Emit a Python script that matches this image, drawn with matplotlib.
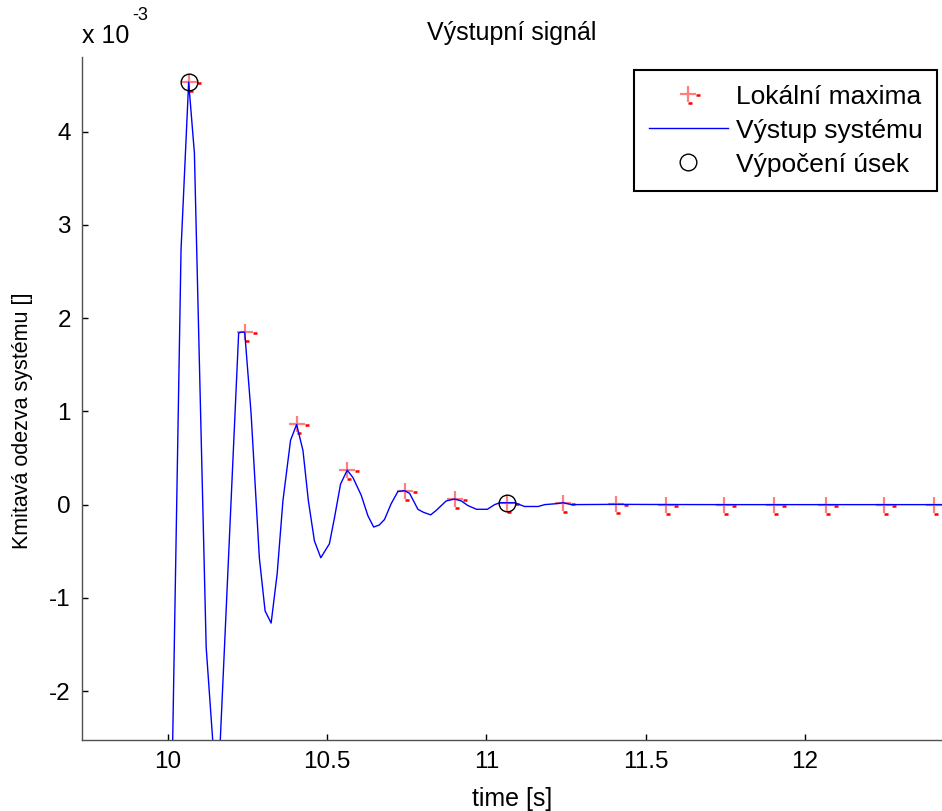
import numpy as np
import matplotlib
matplotlib.use("Agg")
import matplotlib.pyplot as plt
from matplotlib.path import Path
from matplotlib.legend_handler import HandlerTuple

plt.rcParams['font.family'] = ['Liberation Sans', 'DejaVu Sans']

# ---- data (values in units of 1e-3) ----
t_line = [10.000, 10.041, 10.065, 10.083, 10.120, 10.155, 10.222, 10.230, 10.241,
          10.261, 10.287, 10.305, 10.324, 10.343, 10.361, 10.385, 10.404, 10.424,
          10.441, 10.460, 10.480, 10.507, 10.523, 10.542, 10.563, 10.581, 10.607,
          10.628, 10.646, 10.663, 10.680, 10.701, 10.722, 10.743, 10.759, 10.785,
          10.801, 10.825, 10.843, 10.874, 10.900, 10.921, 10.942, 10.969, 11.003,
          11.026, 11.042, 11.066, 11.089, 11.120, 11.163, 11.183, 11.220, 11.241,
          11.267, 11.406, 11.563, 11.745, 11.903, 12.066, 12.248, 12.406, 12.450]
y_line = [-5.50, 2.73, 4.53, 3.77, -1.53, -3.23, 1.84, 1.85, 1.85,
          0.98, -0.57, -1.14, -1.27, -0.74, 0.04, 0.69, 0.86, 0.58,
          0.04, -0.39, -0.57, -0.42, -0.14, 0.22, 0.37, 0.29, 0.10,
          -0.12, -0.24, -0.22, -0.16, 0.01, 0.14, 0.15, 0.12, -0.05,
          -0.08, -0.11, -0.06, 0.04, 0.06, 0.04, -0.01, -0.05, -0.05,
          0.00, 0.02, 0.02, 0.02, -0.02, -0.02, 0.00, 0.01, 0.02,
          0.00, 0.003, 0.001, 0.0, 0.0, 0.0, 0.0, 0.0, 0.0]

t_max = [10.065, 10.241, 10.404, 10.563, 10.743, 10.900, 11.066, 11.241,
         11.406, 11.563, 11.745, 11.903, 12.066, 12.248, 12.406]
y_max = [4.53, 1.85, 0.86, 0.37, 0.15, 0.06, 0.02, 0.02,
         0.003, 0.001, 0.0, 0.0, 0.0, 0.0, 0.0]

t_sel = [10.065, 11.066]
y_sel = [4.53, 0.02]

x_ticks = [10, 10.5, 11, 11.5, 12]
y_ticks = [-2, -1, 0, 1, 2, 3, 4]
scale = 1e-3

FS = 18

fig = plt.figure(figsize=(9.42, 8.11), dpi=100)
W, H = 942, 811
ax = fig.add_axes([82 / W, (H - 740) / H, (W - 82) / W, (740 - 57) / H])

# marker: light plus + small dark offset dashes (MATLAB rendering artefact)
dash_path = Path([(1.0, -0.1), (1.5, -0.1), (0.0, -1.1), (0.5, -1.1)],
                 [Path.MOVETO, Path.LINETO, Path.MOVETO, Path.LINETO])

ym = np.array(y_max) * scale
h_plus, = ax.plot(t_max, ym, linestyle='none', marker='+', markersize=11.5,
                  markeredgewidth=1.6, color='#ff0000', alpha=0.5)
h_dash, = ax.plot(t_max, ym, linestyle='none', marker=dash_path, markersize=17.3,
                  markeredgewidth=1.8, color='#ff0000')
h_line, = ax.plot(t_line, np.array(y_line) * scale, color='#0000ff', linewidth=1.0)
h_circ, = ax.plot(t_sel, np.array(y_sel) * scale, linestyle='none', marker='o',
                  markersize=12, markerfacecolor='none', markeredgecolor='black',
                  markeredgewidth=1.0)

ax.set_xlim(9.730, 12.431)
ax.set_ylim(-2.524e-3, 4.80e-3)
ax.set_xticks(x_ticks)
ax.set_xticklabels(['10', '10.5', '11', '11.5', '12'])
ax.set_yticks([v * scale for v in y_ticks])
ax.set_yticklabels([str(v) for v in y_ticks])

for s in ['top', 'right']:
    ax.spines[s].set_visible(False)
for s in ['left', 'bottom']:
    ax.spines[s].set_color('#505050')
    ax.spines[s].set_linewidth(1.0)
ax.tick_params(direction='in', length=4, width=1.0, color='black',
               labelsize=17.5, pad=8)

ax.set_title('Výstupní signál', fontsize=FS, pad=12)
ax.set_xlabel('time [s]', fontsize=FS, labelpad=10)
ax.set_ylabel('Kmitavá odezva systému []', fontsize=15.5)
ax.yaxis.set_label_coords(-49 / (W - 82), (740 - 421) / (740 - 57))

fig.text(82 / W, 1 - 43 / H, 'x 10', fontsize=FS, va='baseline', ha='left')
fig.text(132 / W, 1 - 20 / H, '-3', fontsize=13, va='baseline', ha='left')

leg = ax.legend([(h_plus, h_dash), h_line, h_circ],
                ['Lokální maxima', 'Výstup systému', 'Výpočení úsek'],
                handler_map={tuple: HandlerTuple(ndivide=1)},
                loc='upper right', bbox_to_anchor=(937 / W, 1 - 70 / H),
                bbox_transform=fig.transFigure, borderaxespad=0,
                fontsize=19, frameon=True, fancybox=False, framealpha=1,
                edgecolor='black', handlelength=3.0, handletextpad=0.3,
                labelspacing=0.38, borderpad=0.55, numpoints=1)
leg.get_frame().set_linewidth(1.5)

fig.savefig('out.png', dpi=100)
